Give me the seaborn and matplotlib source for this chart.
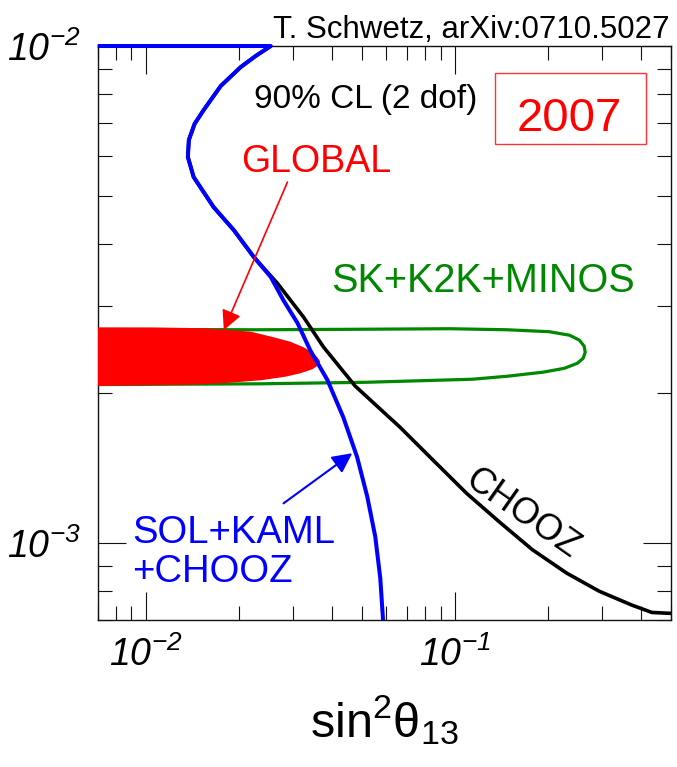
import matplotlib
matplotlib.use("Agg")
import matplotlib.pyplot as plt
from matplotlib import font_manager
from matplotlib.patches import Rectangle
import pandas as pd
import seaborn as sns

# sin^2(theta13) vs Delta m^2 [eV^2], 90% CL contours
sol_kaml_x = [0.007, 0.0254, 0.0227, 0.0203, 0.0175, 0.0154, 0.0144, 0.0138, 0.0137,
              0.0143, 0.0166, 0.0193, 0.0224, 0.0254, 0.0279, 0.0310, 0.0341, 0.0387,
              0.0436, 0.0483, 0.0521, 0.0553, 0.0574, 0.0586]
sol_kaml_y = [0.01, 0.01, 0.00955, 0.00907, 0.00831, 0.00743, 0.00697, 0.00647, 0.00598,
              0.00545, 0.00474, 0.00426, 0.00376, 0.00343, 0.00308, 0.00277, 0.00244, 0.00213,
              0.00179, 0.00149, 0.00124, 0.00103, 0.00085, 0.0007]

chooz_x = [0.0254, 0.0227, 0.0203, 0.0175, 0.0154, 0.0144, 0.0138, 0.0137, 0.0143, 0.0166,
           0.0193, 0.0224, 0.0267, 0.0324, 0.0376, 0.0476, 0.0665, 0.0849, 0.109, 0.140,
           0.178, 0.230, 0.293, 0.374, 0.434, 0.50]
chooz_y = [0.01, 0.00955, 0.00907, 0.00831, 0.00743, 0.00697, 0.00647, 0.00598, 0.00545, 0.00474,
           0.00426, 0.00376, 0.00333, 0.00285, 0.00248, 0.00207, 0.00171, 0.00147, 0.00126, 0.00110,
           0.00097, 0.00087, 0.00080, 0.00075, 0.000725, 0.000722]

atm_x = [0.005, 0.0232, 0.0517, 0.0963, 0.148, 0.202, 0.235, 0.253, 0.262, 0.264,
         0.260, 0.249, 0.226, 0.193, 0.148, 0.114, 0.0517, 0.0232, 0.005]
atm_y = [0.002693, 0.002686, 0.002693, 0.002699, 0.002686, 0.002662, 0.002619, 0.002559, 0.002489, 0.002420,
         0.002354, 0.002300, 0.002247, 0.002207, 0.002166, 0.002136, 0.002106, 0.002091, 0.002082]

global_x = [0.006, 0.0104, 0.0151, 0.0179, 0.0219, 0.0259, 0.0294, 0.0324, 0.0346, 0.0359,
            0.0367, 0.0362, 0.0346, 0.0317, 0.0283, 0.0236, 0.0179, 0.0140, 0.006]
global_y = [0.002715, 0.002715, 0.002706, 0.002689, 0.002662, 0.002595, 0.002541, 0.002477, 0.002420, 0.002365,
            0.002321, 0.002279, 0.002237, 0.002196, 0.002161, 0.002126, 0.002097, 0.002082, 0.002068]

x_ticks = [0.01, 0.1]
x_ticklabels = [r'$\mathsf{10^{-2}}$', r'$\mathsf{10^{-1}}$']
y_ticks = [0.001, 0.01]
y_ticklabels = [r'$\mathsf{10^{-3}}$', r'$\mathsf{10^{-2}}$']

sns.set_theme(style="ticks")
plt.rcParams['font.family'] = ['Liberation Sans', 'DejaVu Sans']
plt.rcParams['mathtext.fontset'] = 'custom'
plt.rcParams['mathtext.rm'] = 'Liberation Sans'
plt.rcParams['mathtext.it'] = 'Liberation Sans:italic'
# italic digits for the tick labels go through \mathsf
plt.rcParams['mathtext.sf'] = 'Liberation Sans:italic'
plt.rcParams['text.color'] = 'black'
plt.rcParams['axes.labelcolor'] = 'black'
plt.rcParams['xtick.color'] = 'black'
plt.rcParams['ytick.color'] = 'black'

# narrow font for the citation, if there is one
names = {f.name for f in font_manager.fontManager.ttflist}
has_narrow = 'Liberation Sans Narrow' in names

fig = plt.figure(figsize=(6.77, 7.67), dpi=100)
ax = fig.add_subplot(111)
fig.subplots_adjust(left=0.1443, right=0.9911, bottom=0.1916, top=0.940)

ax.set_xscale('log')
ax.set_yscale('log')

df_atm = pd.DataFrame({'x': atm_x, 'y': atm_y})
df_chooz = pd.DataFrame({'x': chooz_x, 'y': chooz_y})
df_sol = pd.DataFrame({'x': sol_kaml_x, 'y': sol_kaml_y})

line_kw = dict(sort=False, estimator=None, solid_joinstyle='round', solid_capstyle='butt')
sns.lineplot(data=df_atm, x='x', y='y', color='#008800', lw=2.3, ax=ax, zorder=2, **line_kw)
ax.fill(global_x, global_y, color='#ff0000', lw=0, zorder=3)
sns.lineplot(data=df_chooz, x='x', y='y', color='black', lw=2.6, ax=ax, zorder=4, **line_kw)
sns.lineplot(data=df_sol, x='x', y='y', color='#0000ff', lw=2.9, ax=ax, zorder=5,
             clip_on=False, **line_kw)

ax.set_xlim(0.007, 0.5)
ax.set_ylim(7e-4, 1e-2)

ax.set_xticks(x_ticks, x_ticklabels)
ax.set_yticks(y_ticks, y_ticklabels)
ax.tick_params(which='both', direction='in', top=True, right=True, width=0.8,
               color='#111111', labelcolor='black')
ax.tick_params(which='major', length=20, labelsize=27, pad=12)
ax.tick_params(which='minor', length=10)
for s in ax.spines.values():
    s.set_linewidth(1.0)
    s.set_color('#111111')

ax.set_xlabel(r'$\mathrm{sin}^{2}\mathrm{\theta}_{13}$', fontsize=35, labelpad=14, color='black')
ax.set_ylabel('')

# labels
ax.text(0.468, 0.892, '90% CL (2 dof)', transform=ax.transAxes, fontsize=24,
        ha='center', va='baseline', color='black')
ax.text(0.823, 0.852, '2007', transform=ax.transAxes, fontsize=34,
        ha='center', va='baseline', color='#ff0000')
ax.add_patch(Rectangle((0.693, 0.829), 0.263, 0.124, transform=ax.transAxes,
                       fill=False, edgecolor='#ff3333', lw=1.0, zorder=6))
ax.text(0.381, 0.7805, 'GLOBAL', transform=ax.transAxes, fontsize=27,
        ha='center', va='baseline', color='#ff0000')
ax.text(0.937, 0.5714, 'SK+K2K+MINOS', transform=ax.transAxes, fontsize=28.5,
        ha='right', va='baseline', color='#008800')
ax.text(0.0598, 0.134, 'SOL+KAML', transform=ax.transAxes, fontsize=27.5,
        ha='left', va='baseline', color='#0000ff')
ax.text(0.0598, 0.0662, '+CHOOZ', transform=ax.transAxes, fontsize=27.5,
        ha='left', va='baseline', color='#0000ff')
ax.text(0.1656, 0.001148, 'CHOOZ', fontsize=26, rotation=-35, rotation_mode='anchor',
        ha='center', va='center', color='black')

ax.annotate('', xy=(0.0179, 0.002681), xytext=(0.02876, 0.005324),
            arrowprops=dict(arrowstyle='-|>,head_length=0.6,head_width=0.3',
                            mutation_scale=20, color='#ff0000', lw=1.2,
                            shrinkA=0, shrinkB=0), zorder=7)
ax.annotate('', xy=(0.04659, 0.001516), xytext=(0.02793, 0.001202),
            arrowprops=dict(arrowstyle='-|>,head_length=0.6,head_width=0.3',
                            mutation_scale=20, color='#0000ff', lw=1.5,
                            shrinkA=0, shrinkB=0), zorder=7)

if has_narrow:
    fig.text(0.9897, 0.9505, 'T. Schwetz, arXiv:0710.5027', fontsize=27,
             family='Liberation Sans Narrow', ha='right', va='baseline', color='black')
else:
    fig.text(0.9897, 0.9505, 'T. Schwetz, arXiv:0710.5027', fontsize=22.5,
             ha='right', va='baseline', color='black')

fig.savefig('out.png', dpi=100)
